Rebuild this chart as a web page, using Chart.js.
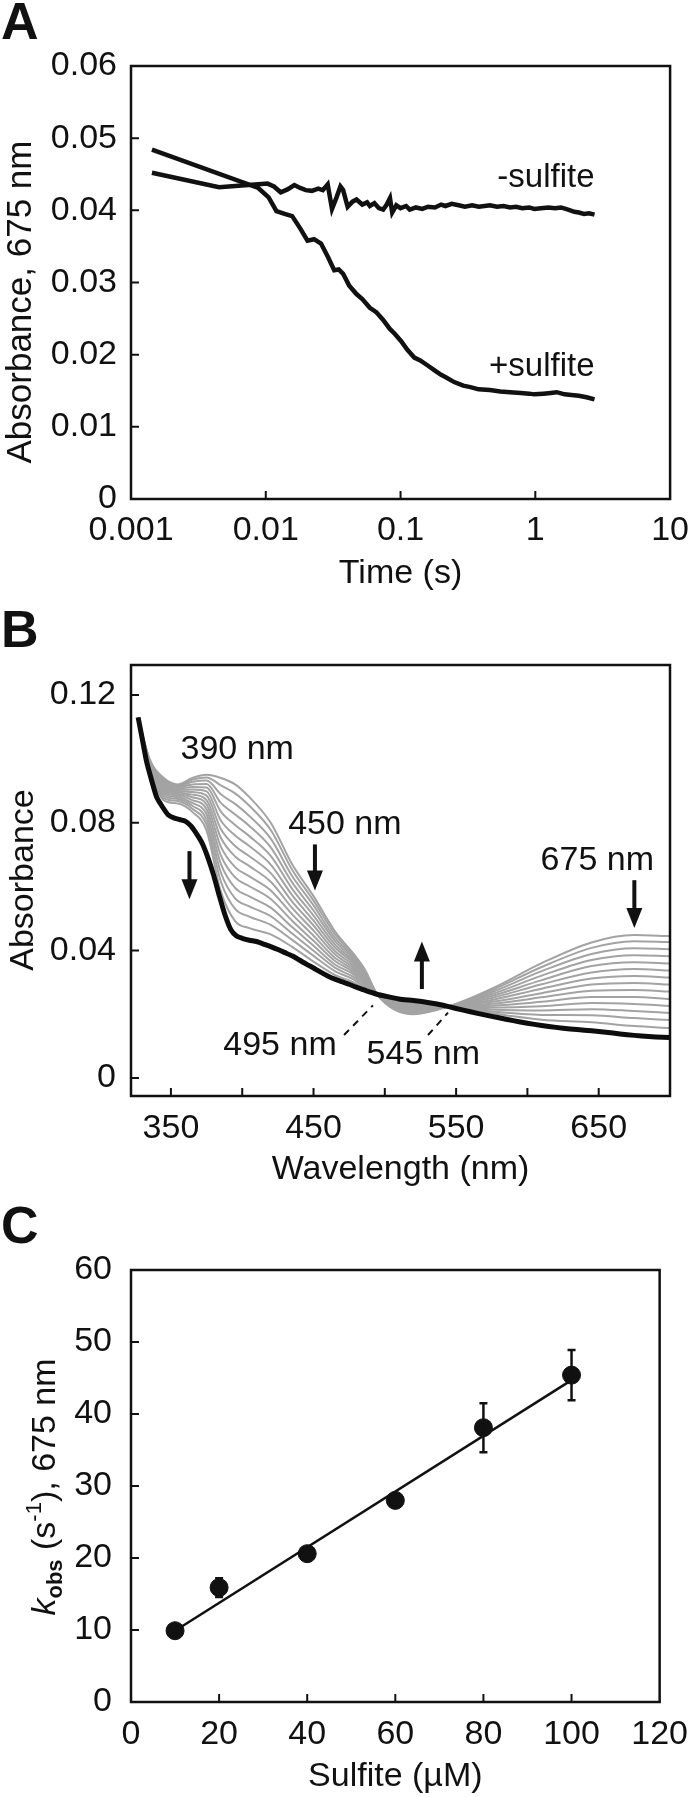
<!DOCTYPE html>
<html>
<head>
<meta charset="utf-8">
<title>Sulfite kinetics</title>
<script src="https://cdn.jsdelivr.net/npm/chart.js@4/dist/chart.umd.min.js"></script>
<style>
  html, body { margin: 0; padding: 0; background: #fff; }
  #wrap { position: relative; width: 700px; height: 1797px; overflow: hidden; }
  canvas { position: absolute; left: 0; }
  .panel { position: absolute; left: 1px; font: bold 52px/52px 'Liberation Sans', Arial, sans-serif; color: #111; }
</style>
</head>
<body>
<div id="wrap">
  <canvas id="chartA" width="700" height="600" style="top:0"></canvas>
  <canvas id="chartB" width="700" height="600" style="top:600px"></canvas>
  <canvas id="chartC" width="700" height="597" style="top:1200px"></canvas>
  <div class="panel" style="top:-5px">A</div>
  <div class="panel" style="top:603px">B</div>
  <div class="panel" style="top:1199px">C</div>
</div>
<script>
// ---- panel A: absorbance at 675 nm vs time (log scale)
const timeMinus = [0.00143, 0.0045, 0.0088, 0.0103, 0.0115, 0.0129, 0.0145, 0.0163, 0.018, 0.0198, 0.022, 0.0245, 0.0265, 0.0288, 0.031, 0.0335, 0.0358, 0.0375, 0.0405, 0.044, 0.0471, 0.052, 0.0565, 0.0592, 0.064, 0.069, 0.0743, 0.079, 0.0835, 0.0867, 0.093, 0.1, 0.11, 0.117, 0.13, 0.145, 0.16, 0.18, 0.2, 0.215, 0.24, 0.27, 0.3, 0.34, 0.38, 0.42, 0.46, 0.52, 0.58, 0.65, 0.72, 0.8, 0.9, 0.984, 1.1, 1.25, 1.4, 1.55, 1.75, 1.95, 2.1, 2.3, 2.5, 2.75];
const absMinus = [0.0452, 0.0432, 0.0436, 0.0437, 0.0433, 0.0425, 0.0429, 0.0435, 0.0431, 0.0428, 0.0427, 0.043, 0.0428, 0.0436, 0.0402, 0.0418, 0.0433, 0.0428, 0.0405, 0.0412, 0.0415, 0.0408, 0.0411, 0.0406, 0.041, 0.0403, 0.0401, 0.0408, 0.0417, 0.0397, 0.0407, 0.0403, 0.0406, 0.0401, 0.0404, 0.0402, 0.0405, 0.0404, 0.0408, 0.0406, 0.0409, 0.0407, 0.0405, 0.0407, 0.0405, 0.0406, 0.0407, 0.0405, 0.0406, 0.0404, 0.0405, 0.0403, 0.0404, 0.0402, 0.0403, 0.0404, 0.0403, 0.0404, 0.0401, 0.0398, 0.0397, 0.0395, 0.0396, 0.0394];
const timePlus = [0.00143, 0.0088, 0.0105, 0.012, 0.0138, 0.0157, 0.018, 0.0204, 0.0228, 0.0257, 0.029, 0.0322, 0.0348, 0.0375, 0.0415, 0.0471, 0.052, 0.0592, 0.066, 0.0743, 0.083, 0.0905, 0.1007, 0.112, 0.1265, 0.14, 0.159, 0.18, 0.2, 0.215, 0.25, 0.292, 0.33, 0.38, 0.46, 0.55, 0.65, 0.78, 0.9, 0.984, 1.15, 1.3, 1.44, 1.65, 1.85, 2.1, 2.4, 2.75];
const absPlus = [0.0484, 0.0431, 0.0418, 0.0399, 0.0395, 0.0392, 0.0375, 0.0358, 0.036, 0.0354, 0.0335, 0.0317, 0.0318, 0.0312, 0.0296, 0.0284, 0.0277, 0.0265, 0.0259, 0.0248, 0.0236, 0.0229, 0.0219, 0.0207, 0.0196, 0.0192, 0.0185, 0.0178, 0.0172, 0.0169, 0.0162, 0.0157, 0.0155, 0.0152, 0.0151, 0.0149, 0.0148, 0.0147, 0.0146, 0.0145, 0.0146, 0.0147, 0.0148, 0.0145, 0.0144, 0.0143, 0.0141, 0.0138];
const ticksAx = [0.001, 0.01, 0.1, 1, 10];
const labelsAx = ['0.001', '0.01', '0.1', '1', '10'];
const ticksAy = [0, 0.01, 0.02, 0.03, 0.04, 0.05, 0.06];
const labelsAy = ['0', '0.01', '0.02', '0.03', '0.04', '0.05', '0.06'];
const curveNamesA = ['-sulfite', '+sulfite'];
const curveNameT = [2.75, 2.75];
const curveNameAbs = [0.0432, 0.017];

// ---- panel B: spectra
const wlBlack = [327, 330, 333, 336, 340, 344, 348, 352, 356, 360, 364, 368, 372, 376, 380, 384, 388, 392, 396, 400, 405, 410, 415, 420, 425, 430, 435, 440, 445, 450, 455, 460, 465, 470, 475, 480, 485, 490, 495, 500, 510, 520, 530, 540, 550, 560, 570, 580, 590, 600, 610, 620, 630, 640, 650, 660, 670, 680, 690, 700];
const absBlack = [0.113, 0.106, 0.099, 0.094, 0.088, 0.085, 0.0825, 0.0815, 0.081, 0.0805, 0.079, 0.0765, 0.0735, 0.069, 0.0635, 0.057, 0.051, 0.0465, 0.0445, 0.0438, 0.0432, 0.0428, 0.042, 0.0412, 0.0403, 0.0393, 0.0383, 0.037, 0.0357, 0.0345, 0.0332, 0.032, 0.031, 0.0302, 0.0294, 0.0285, 0.0277, 0.0269, 0.0262, 0.0257, 0.0248, 0.0243, 0.0237, 0.0229, 0.0218, 0.0208, 0.0198, 0.0189, 0.018, 0.0172, 0.0165, 0.0159, 0.0154, 0.015, 0.0146, 0.0141, 0.0136, 0.0132, 0.0129, 0.0127];
const wlGray = [327, 335, 345, 355, 365, 375, 385, 395, 405, 420, 435, 450, 465, 478, 486, 495, 520, 545, 575, 610, 645, 675, 700];
// earliest spectrum first, then towards the final (black) one
const graySpectra = [
  [0.113, 0.100, 0.094, 0.092, 0.094, 0.095, 0.094, 0.092, 0.088, 0.080, 0.067, 0.057, 0.046, 0.039, 0.034, 0.026, 0.020, 0.0225, 0.028, 0.036, 0.0425, 0.0448, 0.0445],
  [0.113, 0.0998, 0.0936, 0.0917, 0.0935, 0.0942, 0.0917, 0.0892, 0.0853, 0.0777, 0.0653, 0.0556, 0.0451, 0.0384, 0.0336, 0.026, 0.0203, 0.0225, 0.0275, 0.0348, 0.0408, 0.0429, 0.0426],
  [0.113, 0.0996, 0.0932, 0.0914, 0.0928, 0.0932, 0.0889, 0.0859, 0.0821, 0.075, 0.0633, 0.0541, 0.044, 0.0378, 0.0332, 0.026, 0.0206, 0.0225, 0.0269, 0.0335, 0.0389, 0.0407, 0.0404],
  [0.113, 0.0994, 0.0928, 0.0911, 0.092, 0.0921, 0.0862, 0.0826, 0.079, 0.0723, 0.0613, 0.0525, 0.043, 0.0372, 0.0328, 0.026, 0.0209, 0.0225, 0.0263, 0.0321, 0.037, 0.0385, 0.0382],
  [0.113, 0.0992, 0.0923, 0.0907, 0.0912, 0.091, 0.0835, 0.0793, 0.0758, 0.0696, 0.0593, 0.0509, 0.0419, 0.0366, 0.0324, 0.026, 0.0212, 0.0225, 0.0257, 0.0307, 0.0351, 0.0363, 0.0359],
  [0.113, 0.099, 0.0918, 0.0903, 0.0904, 0.0898, 0.0807, 0.076, 0.0727, 0.0669, 0.0573, 0.0493, 0.0409, 0.036, 0.032, 0.026, 0.0215, 0.0225, 0.0251, 0.0294, 0.0331, 0.0342, 0.0337],
  [0.113, 0.0988, 0.0913, 0.0899, 0.0896, 0.0885, 0.078, 0.0727, 0.0695, 0.0642, 0.0553, 0.0478, 0.0398, 0.0353, 0.0315, 0.026, 0.0218, 0.0225, 0.0245, 0.028, 0.0312, 0.032, 0.0315],
  [0.113, 0.0986, 0.0908, 0.0895, 0.0888, 0.0871, 0.0753, 0.0694, 0.0664, 0.0615, 0.0533, 0.0462, 0.0388, 0.0346, 0.031, 0.026, 0.0222, 0.0225, 0.0239, 0.0266, 0.0293, 0.0298, 0.0293],
  [0.113, 0.0984, 0.0902, 0.089, 0.088, 0.0857, 0.0725, 0.0661, 0.0632, 0.0588, 0.0513, 0.0446, 0.0377, 0.0339, 0.0305, 0.026, 0.0225, 0.0225, 0.0233, 0.0253, 0.0274, 0.0276, 0.0271],
  [0.113, 0.0981, 0.0896, 0.0885, 0.0871, 0.0842, 0.0698, 0.0629, 0.0601, 0.0561, 0.0493, 0.043, 0.0367, 0.0332, 0.03, 0.026, 0.0228, 0.0225, 0.0227, 0.0239, 0.0254, 0.0254, 0.0248],
  [0.113, 0.0979, 0.089, 0.088, 0.0862, 0.0826, 0.0671, 0.0596, 0.0569, 0.0534, 0.0473, 0.0415, 0.0356, 0.0325, 0.0294, 0.026, 0.0231, 0.0225, 0.0221, 0.0225, 0.0235, 0.0232, 0.0226],
  [0.113, 0.0977, 0.0884, 0.0874, 0.0853, 0.081, 0.0644, 0.0563, 0.0538, 0.0507, 0.0453, 0.0399, 0.0346, 0.0317, 0.0289, 0.026, 0.0234, 0.0225, 0.0215, 0.0212, 0.0216, 0.021, 0.0204],
  [0.113, 0.0975, 0.0877, 0.0868, 0.0844, 0.0793, 0.0616, 0.053, 0.0506, 0.048, 0.0433, 0.0383, 0.0335, 0.0309, 0.0283, 0.026, 0.0237, 0.0225, 0.0209, 0.0198, 0.0197, 0.0188, 0.0182],
  [0.113, 0.0973, 0.087, 0.086, 0.0834, 0.0775, 0.0585, 0.0492, 0.047, 0.045, 0.0411, 0.0365, 0.0323, 0.03, 0.0277, 0.026, 0.0241, 0.0225, 0.0203, 0.0183, 0.0175, 0.0163, 0.0157]
];
const ticksBx = [350, 400, 450, 500, 550, 600, 650];
const labelsBx = ['350', '', '450', '', '550', '', '650'];
const ticksBy = [0, 0.04, 0.08, 0.12];
const labelsBy = ['0', '0.04', '0.08', '0.12'];
// annotations (data units)
const noteText = ['390 nm', '450 nm', '675 nm', '495 nm', '545 nm'];
const noteWl = [396.5, 472, 649, 426.5, 527];
const noteAbs = [0.103, 0.0795, 0.0682, 0.0102, 0.0074];
const arrowWl = [363, 451, 526, 675];
const arrowFrom = [0.0711, 0.0732, 0.0279, 0.062];
const arrowTo = [0.056, 0.0588, 0.0428, 0.047];
const leaderWl1 = [471.4, 530.3], leaderAbs1 = [0.0135, 0.0135];
const leaderWl2 = [491.7, 544.3], leaderAbs2 = [0.0228, 0.0205];

// ---- panel C: kobs vs sulfite
const sulfite = [10, 20, 40, 60, 80, 100];
const kobs = [9.9, 15.9, 20.6, 28.0, 38.1, 45.4];
const kobsErr = [0.4, 1.3, 0.5, 0.5, 3.4, 3.5];
const fitX = [10, 100];
const fitY = [9.9, 44.7];
const ticksCx = [0, 20, 40, 60, 80, 100, 120];
const ticksCy = [0, 10, 20, 30, 40, 50, 60];

const FONT = "'Liberation Sans', Arial, sans-serif";
const INK = '#111';
Chart.defaults.font.family = FONT;
Chart.defaults.font.size = 34;
Chart.defaults.color = INK;

function pts(xs, ys) { return xs.map((x, i) => ({ x: x, y: ys[i] })); }

function axis(vals, labels, pad, extra) {
  return Object.assign({
    afterBuildTicks: s => { s.ticks = vals.map(v => ({ value: v })); },
    ticks: { autoSkip: false, maxRotation: 0, padding: pad, color: INK, font: { size: 34 },
             callback: (v, i) => labels[i] },
    grid: { display: false, drawTicks: false },
    border: { display: false }
  }, extra);
}
function xTitle(text, padBottom) {
  return { display: true, text: text, color: INK, font: { size: 34 }, padding: { top: 0, bottom: padBottom } };
}

// box around the plot area + inward tick marks
const framePlugin = {
  id: 'frame',
  afterDatasetsDraw(chart) {
    const { ctx, chartArea: a, scales: { x, y } } = chart;
    ctx.save();
    ctx.strokeStyle = INK;
    ctx.lineWidth = 2;
    ctx.beginPath();
    x.ticks.forEach(t => {
      const px = x.getPixelForValue(t.value);
      if (px <= a.left + 1 || px >= a.right - 1) return;
      ctx.moveTo(px, a.bottom); ctx.lineTo(px, a.bottom - 8);
    });
    y.ticks.forEach(t => {
      const py = y.getPixelForValue(t.value);
      if (py <= a.top + 1 || py >= a.bottom - 1) return;
      ctx.moveTo(a.left, py); ctx.lineTo(a.left + 8, py);
    });
    ctx.stroke();
    ctx.lineWidth = 2.5;
    ctx.strokeRect(a.left, a.top, a.right - a.left, a.bottom - a.top);
    ctx.restore();
  }
};

// rotated y-axis title made of text runs (for sub/superscripts)
function yTitle(runs, baseX, centerY) {
  return {
    id: 'ytitle',
    afterDraw(chart) {
      const ctx = chart.ctx;
      ctx.save();
      ctx.translate(baseX, centerY);
      ctx.rotate(-Math.PI / 2);
      ctx.fillStyle = INK;
      ctx.textBaseline = 'alphabetic';
      let total = 0;
      runs.forEach(r => { ctx.font = r.font; r.w = ctx.measureText(r.text).width; total += r.w; });
      let x = -total / 2;
      runs.forEach(r => { ctx.font = r.font; ctx.fillText(r.text, x, r.dy || 0); x += r.w; });
      ctx.restore();
    }
  };
}

// ---------- A
new Chart(document.getElementById('chartA'), {
  type: 'line',
  data: {
    datasets: [
      { data: pts(timeMinus, absMinus), borderColor: INK, borderWidth: 4.5, pointRadius: 0, tension: 0 },
      { data: pts(timePlus, absPlus), borderColor: INK, borderWidth: 4.5, pointRadius: 0, tension: 0 }
    ]
  },
  options: {
    animation: false, responsive: false, devicePixelRatio: 1,
    layout: { padding: { top: 66, right: 28, left: 0, bottom: 0 } },
    plugins: { legend: { display: false }, tooltip: { enabled: false } },
    scales: {
      x: axis(ticksAx, labelsAx, 11, { type: 'logarithmic', min: 0.001, max: 10,
        afterFit: s => { s.height = 101; }, title: xTitle('Time (s)', 6) }),
      y: axis(ticksAy, labelsAy, 14, { type: 'linear', min: 0, max: 0.06,
        afterFit: s => { s.width = 131; } })
    }
  },
  plugins: [framePlugin, yTitle([{ text: 'Absorbance, 675 nm', font: `35px ${FONT}` }], 31, 302), {
    id: 'curveNames',
    afterDatasetsDraw(chart) {
      const { ctx, scales: { x, y } } = chart;
      ctx.save();
      ctx.font = `33px ${FONT}`;
      ctx.fillStyle = INK;
      ctx.textAlign = 'right';
      ctx.textBaseline = 'alphabetic';
      curveNamesA.forEach((t, i) => ctx.fillText(t, x.getPixelForValue(curveNameT[i]), y.getPixelForValue(curveNameAbs[i])));
      ctx.restore();
    }
  }]
});

// ---------- B
const specSets = [
  { data: pts(wlBlack, absBlack), borderColor: '#0d0d0d', borderWidth: 5, pointRadius: 0, tension: 0.2 }
].concat(graySpectra.map(s => ({
  data: pts(wlGray, s), borderColor: '#a3a3a3', borderWidth: 2, pointRadius: 0, cubicInterpolationMode: 'monotone'
})));

new Chart(document.getElementById('chartB'), {
  type: 'line',
  data: { datasets: specSets },
  options: {
    animation: false, responsive: false, devicePixelRatio: 1,
    layout: { padding: { top: 65, right: 30, left: 0, bottom: 0 } },
    plugins: { legend: { display: false }, tooltip: { enabled: false } },
    scales: {
      x: axis(ticksBx, labelsBx, 12, { type: 'linear', min: 322, max: 700,
        afterFit: s => { s.height = 104; }, title: xTitle('Wavelength (nm)', 10) }),
      y: axis(ticksBy, labelsBy, 15, { type: 'linear', min: -0.0056, max: 0.1294,
        afterFit: s => { s.width = 131; } })
    }
  },
  plugins: [framePlugin, yTitle([{ text: 'Absorbance', font: `34px ${FONT}` }], 33, 280), {
    id: 'notes',
    afterDatasetsDraw(chart) {
      const { ctx, scales: { x, y } } = chart;
      ctx.save();
      ctx.fillStyle = INK;
      ctx.strokeStyle = INK;
      ctx.font = `34px ${FONT}`;
      ctx.textAlign = 'center';
      ctx.textBaseline = 'middle';
      noteText.forEach((t, i) => ctx.fillText(t, x.getPixelForValue(noteWl[i]), y.getPixelForValue(noteAbs[i])));
      // arrows
      arrowWl.forEach((w, i) => {
        const px = x.getPixelForValue(w);
        const y0 = y.getPixelForValue(arrowFrom[i]);
        const y1 = y.getPixelForValue(arrowTo[i]);
        const dir = y1 > y0 ? 1 : -1;
        ctx.lineWidth = 4;
        ctx.beginPath();
        ctx.moveTo(px, y0); ctx.lineTo(px, y1 - dir * 14);
        ctx.stroke();
        ctx.beginPath();
        ctx.moveTo(px - 8, y1 - dir * 20); ctx.lineTo(px + 8, y1 - dir * 20); ctx.lineTo(px, y1);
        ctx.closePath();
        ctx.fill();
      });
      // dashed leaders to isosbestic points
      ctx.lineWidth = 2;
      ctx.setLineDash([7, 6]);
      leaderWl1.forEach((w, i) => {
        ctx.beginPath();
        ctx.moveTo(x.getPixelForValue(w), y.getPixelForValue(leaderAbs1[i]));
        ctx.lineTo(x.getPixelForValue(leaderWl2[i]), y.getPixelForValue(leaderAbs2[i]));
        ctx.stroke();
      });
      ctx.restore();
    }
  }]
});

// ---------- C
new Chart(document.getElementById('chartC'), {
  type: 'scatter',
  data: {
    datasets: [
      { data: pts(sulfite, kobs), backgroundColor: INK, borderColor: INK, pointRadius: 9, showLine: false },
      { data: pts(fitX, fitY), borderColor: INK, borderWidth: 2.5, pointRadius: 0, showLine: true }
    ]
  },
  options: {
    animation: false, responsive: false, devicePixelRatio: 1,
    layout: { padding: { top: 70, right: 29, left: 0, bottom: 0 } },
    plugins: { legend: { display: false }, tooltip: { enabled: false } },
    scales: {
      x: axis(ticksCx, ticksCx.map(String), 12, { type: 'linear', min: 0, max: 120,
        afterFit: s => { s.height = 95; }, title: xTitle('Sulfite (\u00b5M)', 0) }),
      y: axis(ticksCy, ticksCy.map(String), 19, { type: 'linear', min: 0, max: 60,
        afterFit: s => { s.width = 131; } })
    }
  },
  plugins: [framePlugin, yTitle([
    { text: 'k', font: `italic 34px ${FONT}` },
    { text: 'obs', font: `bold 22px ${FONT}`, dy: 7 },
    { text: ' (s', font: `34px ${FONT}` },
    { text: '-1', font: `22px ${FONT}`, dy: -14 },
    { text: '), 675 nm', font: `34px ${FONT}` }
  ], 55, 287), {
    id: 'errorBars',
    afterDatasetsDraw(chart) {
      const { ctx, scales: { x, y } } = chart;
      ctx.save();
      ctx.strokeStyle = INK;
      ctx.lineWidth = 2.5;
      ctx.beginPath();
      sulfite.forEach((s, i) => {
        const px = x.getPixelForValue(s);
        const lo = y.getPixelForValue(kobs[i] - kobsErr[i]);
        const hi = y.getPixelForValue(kobs[i] + kobsErr[i]);
        ctx.moveTo(px, lo); ctx.lineTo(px, hi);
        ctx.moveTo(px - 4, lo); ctx.lineTo(px + 4, lo);
        ctx.moveTo(px - 4, hi); ctx.lineTo(px + 4, hi);
      });
      ctx.stroke();
      ctx.restore();
    }
  }]
});
</script>
</body>
</html>
